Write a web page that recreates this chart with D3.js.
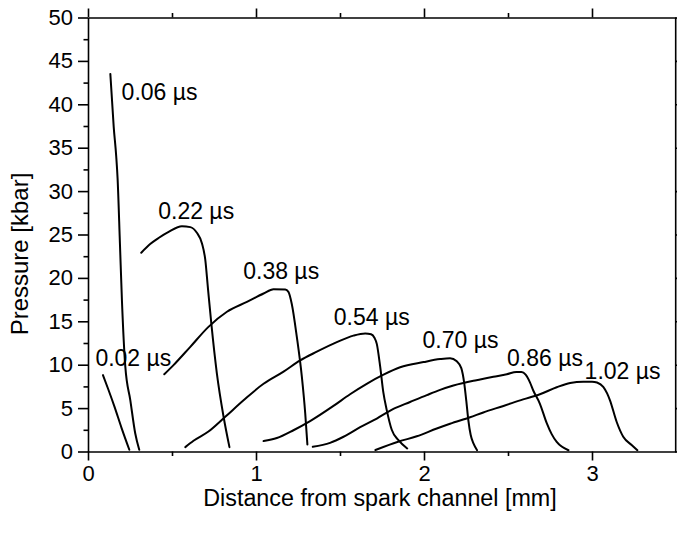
<!DOCTYPE html>
<html>
<head>
<meta charset="utf-8">
<script src="https://cdn.jsdelivr.net/npm/d3@7"></script>
<style>
  html, body { margin: 0; padding: 0; background: #fff; }
  svg { display: block; font-family: "Liberation Sans", Arial, sans-serif; }
</style>
</head>
<body>
<svg id="chart" width="677" height="533"></svg>
<script>
// Pressure profiles [distance mm, pressure kbar] at successive times after breakdown
const p002 = [[0.089,8.8],[0.12,7.2],[0.157,5.2],[0.2,2.7],[0.246,0.2]];
const p006 = [[0.133,43.5],[0.153,37.4],[0.168,34],[0.176,31.5],[0.19,24],[0.202,17.4],[0.222,9.8],[0.252,5.9],[0.281,2.1],[0.305,0.2]];
const p022 = [[0.317,22.9],[0.37,23.9],[0.42,24.6],[0.48,25.3],[0.559,25.95],[0.609,25.85],[0.648,25.2],[0.678,24],[0.698,22.1],[0.714,18.8],[0.734,14.75],[0.767,9.0],[0.807,4.0],[0.842,0.5]];
const p038 = [[0.454,8.9],[0.509,9.95],[0.609,12.06],[0.717,14.36],[0.827,16.1],[0.946,17.24],[1.045,18.2],[1.104,18.7],[1.174,18.65],[1.193,18.4],[1.213,17.0],[1.243,13.2],[1.273,8.6],[1.293,4.4],[1.306,0.8]];
const p054 = [[0.579,0.5],[0.628,1.24],[0.717,2.3],[0.817,4.0],[0.926,5.9],[1.045,7.8],[1.164,9.2],[1.263,10.5],[1.362,11.5],[1.481,12.6],[1.58,13.35],[1.65,13.6],[1.685,13.5],[1.705,13.1],[1.719,12.4],[1.739,9.8],[1.758,6.8],[1.778,4.8],[1.808,2.5],[1.848,1.3],[1.9,0.35]];
const p070 = [[1.045,1.2],[1.124,1.55],[1.223,2.45],[1.322,3.5],[1.461,5.25],[1.56,6.6],[1.659,7.8],[1.759,8.85],[1.858,9.7],[1.997,10.3],[2.096,10.65],[2.155,10.75],[2.195,10.4],[2.222,9.6],[2.24,7.8],[2.252,5.8],[2.264,3.6],[2.278,1.9],[2.295,0.9],[2.316,0.15]];
const p086 = [[1.338,0.55],[1.441,1.0],[1.521,1.7],[1.62,2.8],[1.719,3.8],[1.818,4.9],[1.917,5.7],[2.017,6.5],[2.096,7.1],[2.175,7.6],[2.294,8.15],[2.334,8.3],[2.413,8.6],[2.493,8.9],[2.55,9.15],[2.58,9.15],[2.605,8.85],[2.63,8.0],[2.651,7.0],[2.69,5.5],[2.73,3.3],[2.76,2.0],[2.79,1.1],[2.86,0.15]];
const p102 = [[1.711,0.17],[1.85,1.15],[1.957,1.75],[2.076,2.65],[2.155,3.2],[2.274,3.95],[2.353,4.5],[2.473,5.25],[2.59,6.0],[2.69,6.6],[2.79,7.4],[2.87,7.9],[2.948,8.05],[3.0,8.05],[3.03,7.95],[3.067,7.45],[3.09,6.7],[3.107,5.9],[3.147,3.4],[3.186,1.7],[3.236,0.75],[3.27,0.15]];

// Curve labels: text and the data-space anchor (left end, baseline)
const labelText = ["0.02 µs","0.06 µs","0.22 µs","0.38 µs","0.54 µs","0.70 µs","0.86 µs","1.02 µs"];
const labelPos  = [[0.044,9.85],[0.2,40.55],[0.418,26.8],[0.924,19.9],[1.463,14.6],[1.991,11.9],[2.494,9.9],[2.956,8.3]];
const profiles  = [p002, p006, p022, p038, p054, p070, p086, p102];

const xMajor = [0, 1, 2, 3];
const xMinor = [0.5, 1.5, 2.5];
const yMajor = [0, 5, 10, 15, 20, 25, 30, 35, 40, 45, 50];
const yMinor = [2.5, 7.5, 12.5, 17.5, 22.5, 27.5, 32.5, 37.5, 42.5, 47.5];

const margin = { left: 88, right: 1, top: 17.5, bottom: 81.5 };
const W = 677, H = 533;
const svg = d3.select("#chart");

const x = d3.scaleLinear().domain([0, 3.5]).range([margin.left, W - margin.right]);
const y = d3.scaleLinear().domain([0, 50]).range([H - margin.bottom, margin.top]);

const tickFont = 22;

function styleAxis(g) {
  g.select(".domain").attr("stroke", "#000").attr("stroke-width", 1.6);
  g.selectAll(".tick line").attr("stroke", "#000").attr("stroke-width", 1.6);
  g.selectAll(".tick text").attr("fill", "#000").attr("font-size", tickFont)
    .attr("font-family", "Liberation Sans, Arial, sans-serif");
}

// bottom axis
svg.append("g").attr("transform", `translate(0,${y(0)})`)
  .call(d3.axisBottom(x).tickValues(xMajor).tickFormat(d3.format("d")).tickSize(9).tickSizeOuter(0).tickPadding(5))
  .call(styleAxis);
svg.append("g").attr("transform", `translate(0,${y(0)})`)
  .call(d3.axisBottom(x).tickValues(xMinor).tickFormat("").tickSize(4.5).tickSizeOuter(0))
  .call(styleAxis).select(".domain").remove();

// top axis (ticks only)
svg.append("g").attr("transform", `translate(0,${y(50)})`)
  .call(d3.axisTop(x).tickValues(xMajor).tickFormat("").tickSize(9).tickSizeOuter(0))
  .call(styleAxis);
svg.append("g").attr("transform", `translate(0,${y(50)})`)
  .call(d3.axisTop(x).tickValues(xMinor).tickFormat("").tickSize(4.5).tickSizeOuter(0))
  .call(styleAxis).select(".domain").remove();

// left axis
svg.append("g").attr("transform", `translate(${x(0)},0)`)
  .call(d3.axisLeft(y).tickValues(yMajor).tickFormat(d3.format("d")).tickSize(10).tickSizeOuter(0).tickPadding(5))
  .call(styleAxis);
svg.append("g").attr("transform", `translate(${x(0)},0)`)
  .call(d3.axisLeft(y).tickValues(yMinor).tickFormat("").tickSize(4.5).tickSizeOuter(0))
  .call(styleAxis).select(".domain").remove();

// right axis (ticks only)
svg.append("g").attr("transform", `translate(${x(3.5) - 0.8},0)`)
  .call(d3.axisRight(y).tickValues(yMajor).tickFormat("").tickSize(10).tickSizeOuter(0))
  .call(styleAxis);

// axis titles
svg.append("text")
  .attr("x", 380).attr("y", 506)
  .attr("text-anchor", "middle").attr("font-size", 23.3).attr("fill", "#000")
  .text("Distance from spark channel [mm]");
svg.append("text")
  .attr("transform", "translate(28,254) rotate(-90)")
  .attr("text-anchor", "middle").attr("font-size", 24).attr("fill", "#000")
  .text("Pressure [kbar]");

// profiles
const line = d3.line()
  .x(d => x(d[0]))
  .y(d => y(d[1]))
  .curve(d3.curveMonotoneX);

svg.append("g").selectAll("path")
  .data(profiles)
  .join("path")
  .attr("d", line)
  .attr("fill", "none")
  .attr("stroke", "#000")
  .attr("stroke-width", 2)
  .attr("stroke-linejoin", "round")
  .attr("stroke-linecap", "round");

// time labels
svg.append("g").selectAll("text")
  .data(labelText)
  .join("text")
  .attr("x", (d, i) => x(labelPos[i][0]))
  .attr("y", (d, i) => y(labelPos[i][1]))
  .attr("font-size", 23)
  .attr("fill", "#000")
  .text(d => d);
</script>
</body>
</html>
